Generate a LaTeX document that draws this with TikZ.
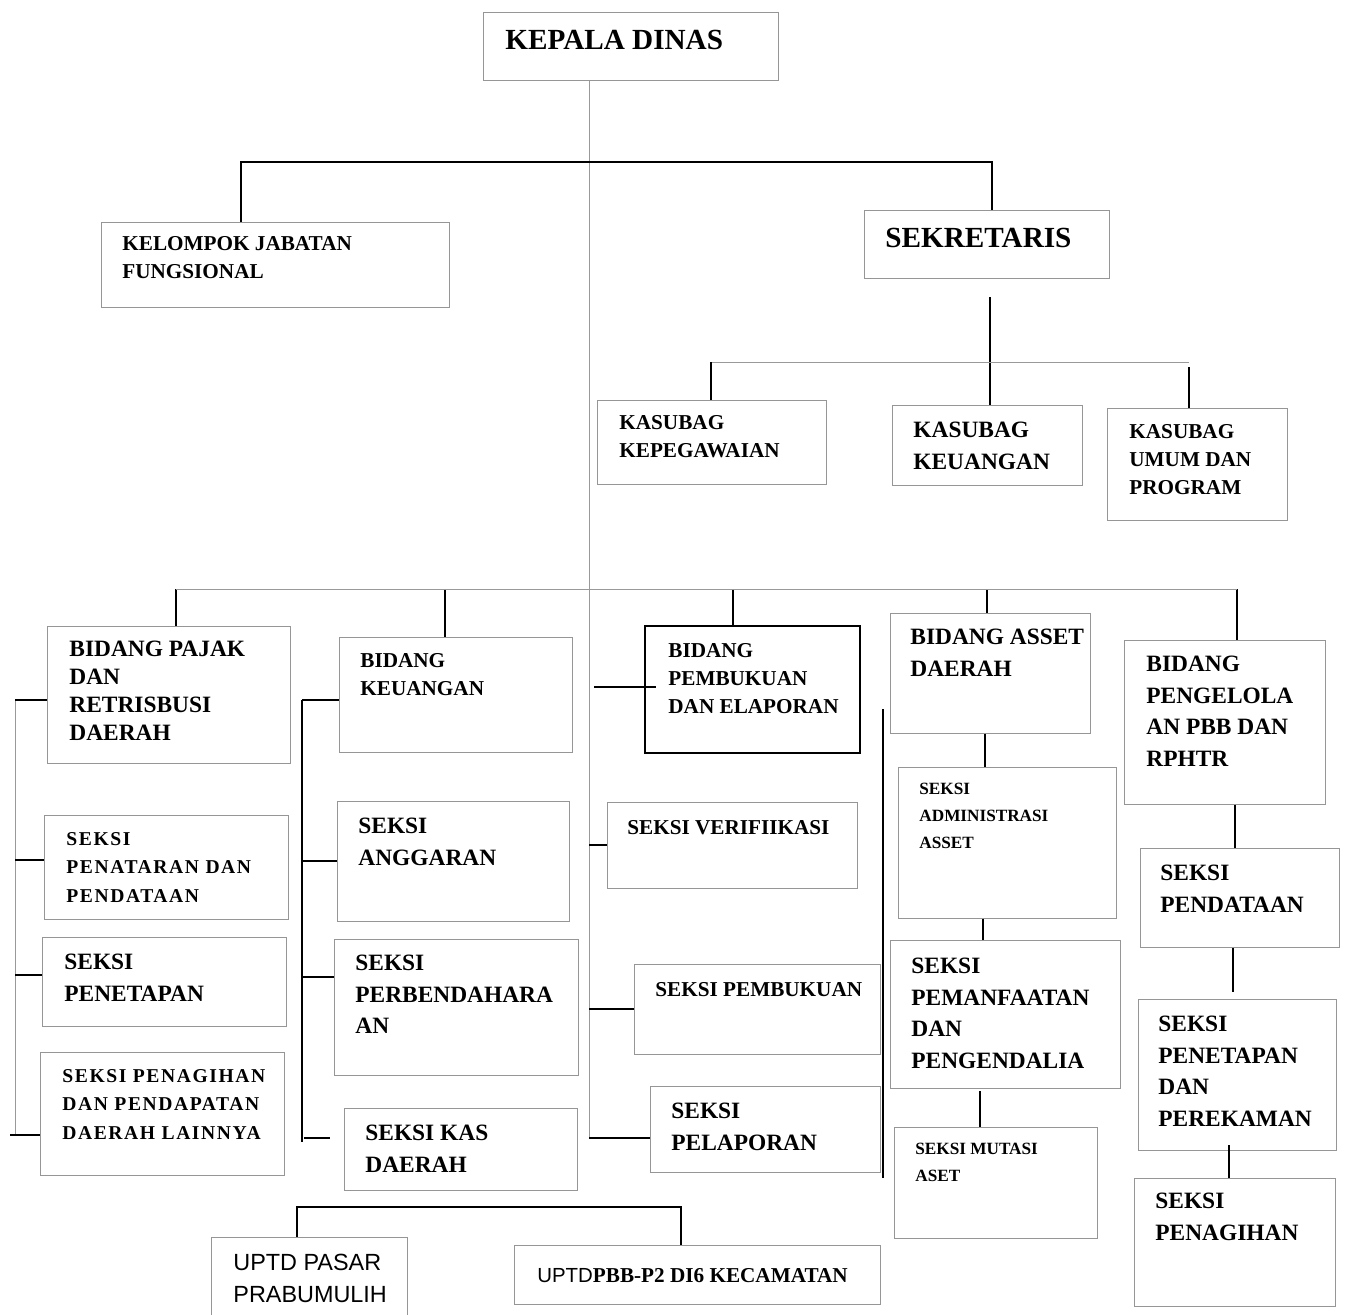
\documentclass[tikz,border=0pt]{standalone}
\usepackage{fontspec}
\setmainfont{Liberation Serif}
\setsansfont{Liberation Sans}
\newfontfamily\trackedserif[LetterSpace=8]{Liberation Serif}
\usetikzlibrary{fit}
\newcommand{\fontbig}{\bfseries\fontsize{14.6}{17}\selectfont}
\newcommand{\fontmid}{\bfseries\fontsize{11.7}{15.75}\selectfont}
\newcommand{\fonttight}{\bfseries\fontsize{11.7}{14}\selectfont}
\newcommand{\fontsmall}{\bfseries\fontsize{10.6}{14}\selectfont}
\newcommand{\fonttiny}{\bfseries\fontsize{8.6}{13.5}\selectfont}
\newcommand{\fontspaced}{\trackedserif\bfseries\fontsize{9.8}{14.2}\selectfont}
\newcommand{\fontsans}{\sffamily\fontsize{11.7}{16}\selectfont}
\definecolor{boxline}{RGB}{150,150,150}
\tikzset{unit/.style={draw=boxline, line width=0.5pt, inner sep=0pt},
         lbl/.style={anchor=north west, inner sep=0pt, align=left},
         bar/.style={line width=1pt},
         link/.style={line width=0.7pt},
         faint/.style={line width=0.5pt, draw=gray!80}}

\begin{document}
\begin{tikzpicture}[x=0.5pt, y=-0.5pt]
            \useasboundingbox (0,0) rectangle (1347,1314);
            \foreach \n/\xa/\ya/\xb/\yb/\tx/\ty/\txt in {kepala/483/12/778/80/505/30/{KEPALA DINAS},
                sekretaris/864/210/1109/278/885/228/{SEKRETARIS}} {
                \node[unit, fit={(\xa,\ya) (\xb,\yb)}] (\n) {};
                \node[lbl, font=\fontbig] (\n-t) at (\tx,\ty) {\txt};
            }
            \foreach \n/\xa/\ya/\xb/\yb/\tx/\ty/\txt in {kelompok/101/222/449/307/122/236/{KELOMPOK JABATAN\\FUNGSIONAL},
                kepeg/597/400/826/484/619/415/{KASUBAG\\KEPEGAWAIAN},
                umum/1107/408/1287/520/1129/424/{KASUBAG\\UMUM DAN\\PROGRAM},
                bkeu/339/637/572/752/360/653/{BIDANG\\KEUANGAN},
                verif/607/802/857/888/627/820/{SEKSI VERIFIIKASI},
                sbuku/634/964/880/1054/655/982/{SEKSI PEMBUKUAN}} {
                \node[unit, fit={(\xa,\ya) (\xb,\yb)}] (\n) {};
                \node[lbl, font=\fontsmall] (\n-t) at (\tx,\ty) {\txt};
            }
            \foreach \n/\xa/\ya/\xb/\yb/\tx/\ty/\txt in {keu/892/405/1082/485/913/422/{KASUBAG\\KEUANGAN},
                asset/890/613/1090/733/910/629/{BIDANG ASSET\\DAERAH},
                pbb/1124/640/1325/804/1146/656/{BIDANG\\PENGELOLA\\AN PBB DAN\\RPHTR},
                penetapan1/42/937/286/1026/64/954/{SEKSI\\PENETAPAN},
                anggaran/337/801/569/921/358/818/{SEKSI\\ANGGARAN},
                perbend/334/939/578/1075/355/955/{SEKSI\\PERBENDAHARA\\AN},
                kas/344/1108/577/1190/365/1125/{SEKSI KAS\\DAERAH},
                pelaporan/650/1086/880/1172/671/1103/{SEKSI\\PELAPORAN},
                pemanfaatan/890/940/1120/1088/911/958/{SEKSI\\PEMANFAATAN\\DAN\\PENGENDALIA},
                pendataan/1140/848/1339/947/1160/865/{SEKSI\\PENDATAAN},
                perekaman/1138/999/1336/1150/1158/1016/{SEKSI\\PENETAPAN\\DAN\\PEREKAMAN},
                penagihan2/1134/1178/1335/1306/1155/1193/{SEKSI\\PENAGIHAN}} {
                \node[unit, fit={(\xa,\ya) (\xb,\yb)}] (\n) {};
                \node[lbl, font=\fontmid] (\n-t) at (\tx,\ty) {\txt};
            }
            \foreach \n/\xa/\ya/\xb/\yb/\tx/\ty/\txt in {admin/898/767/1116/918/919/783/{SEKSI\\ADMINISTRASI\\ASSET},
                mutasi/894/1127/1097/1238/915/1143/{SEKSI MUTASI\\ASET}} {
                \node[unit, fit={(\xa,\ya) (\xb,\yb)}] (\n) {};
                \node[lbl, font=\fonttiny] (\n-t) at (\tx,\ty) {\txt};
            }
            \foreach \n/\xa/\ya/\xb/\yb/\tx/\ty/\txt in {penataran/44/815/288/919/66/832/{SEKSI\\PENATARAN DAN\\PENDATAAN},
                penagihan1/40/1052/284/1175/62/1069/{SEKSI PENAGIHAN\\DAN PENDAPATAN\\DAERAH LAINNYA}} {
                \node[unit, fit={(\xa,\ya) (\xb,\yb)}] (\n) {};
                \node[lbl, font=\fontspaced] (\n-t) at (\tx,\ty) {\txt};
            }
            \node[unit, fit={(47,626) (290,763)}] (pajak) {};
            \node[lbl, font=\fonttight] (pajak-t) at (69,641) {BIDANG PAJAK\\DAN\\RETRISBUSI\\DAERAH};
            \node[unit, draw=black, line width=1pt, fit={(645,626) (860,753)}] (pembukuan) {};
            \node[lbl, font=\fontsmall] (pembukuan-t) at (668,643) {BIDANG\\PEMBUKUAN\\DAN ELAPORAN};
            \node[unit, fit={(211,1237) (407,1330)}] (pasar) {};
            \node[lbl, font=\fontsans] (pasar-t) at (233,1254) {UPTD PASAR\\PRABUMULIH};
            \node[unit, fit={(514,1245) (880,1304)}] (pbbp2) {};
            \node[lbl, font=\fontsmall] (pbbp2-t) at (537,1268) {{\sffamily\mdseries\fontsize{10.2}{14}\selectfont UPTD}PBB-P2 DI6 KECAMATAN};
            \coordinate (trunk) at (589,1138);
            \draw[faint] (kepala.south -| trunk) -- (trunk);
            \coordinate (jbar) at (241,162);
            \coordinate (sbar) at (992,162);
            \draw[bar] (jbar |- kelompok.north) -- (jbar) -- (sbar) -- (sbar |- sekretaris.north);
            \coordinate (stop) at (990,297);
            \draw[link] (stop) -- (stop |- keu.north);
            \coordinate (kl) at (711,362);
            \coordinate (kr) at (1189,362);
            \draw[faint] (kl) -- (kr);
            \draw[link] (kl) -- (kl |- kepeg.north);
            \draw[link] (1189,367) -- (kr |- umum.north);
            \foreach \n/\x in {pajak/176, bkeu/445, pembukuan/733, asset/987, pbb/1237} {
                \coordinate (d-\n) at (\x,589);
                \draw[link] (d-\n) -- (d-\n |- \n.north);
            }
            \draw[faint] (d-pajak) -- (d-pbb);
            \draw[faint] (15,700) -- (15,1135);
            \foreach \y/\n in {700/pajak, 860/penataran, 975/penetapan1} {
                \draw[link] (15,\y) -- (\n.west |- 15,\y);
            }
            \draw[link] (10,1135) -- (penagihan1.west |- 10,1135);
            \draw[bar] (302,700) -- (302,1142);
            \foreach \y/\n in {700/bkeu, 861/anggaran, 977/perbend} {
                \draw[link] (302,\y) -- (\n.west |- 302,\y);
            }
            \draw[link] (304,1138) -- (330,1138);
            \foreach \y/\n in {845/verif, 1009/sbuku, 1138/pelaporan} {
                \draw[link] (trunk |- 0,\y) -- (\n.west |- 0,\y);
            }
            \draw[link] (594,687) -- (656,687);
            \draw[bar] (883,709) -- (883,1178);
            \draw[link] (985,0 |- asset.south) -- (985,0 |- admin.north);
            \draw[link] (983,0 |- admin.south) -- (983,0 |- pemanfaatan.north);
            \draw[link] (980,1091) -- (980,0 |- mutasi.north);
            \draw[link] (1235,0 |- pbb.south) -- (1235,0 |- pendataan.north);
            \draw[link] (1233,0 |- pendataan.south) -- (1233,992);
            \draw[link] (1229,1145) -- (1229,0 |- penagihan2.north);
            \coordinate (ul) at (297,1207);
            \coordinate (ur) at (681,1207);
            \draw[bar] (ul |- pasar.north) -- (ul) -- (ur) -- (ur |- pbbp2.north);
        \end{tikzpicture}
\end{document}
